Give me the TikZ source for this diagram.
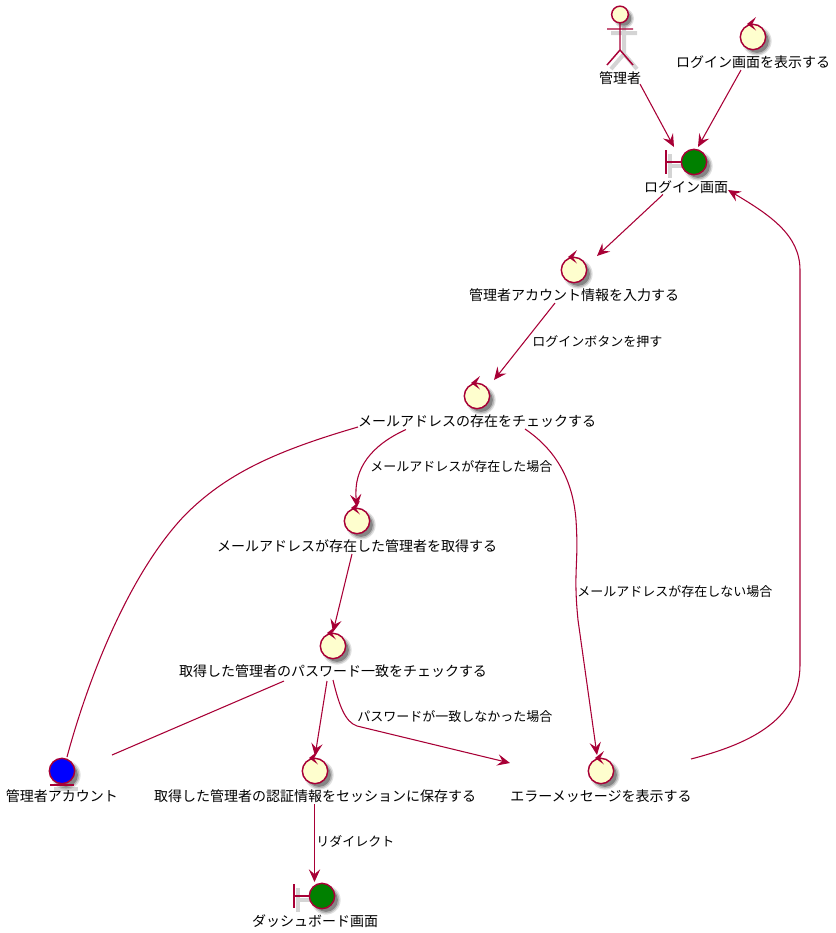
\documentclass[tikz,border=0pt]{standalone}
\usepackage{fontspec}
\setmainfont{Noto Sans CJK JP}
\usetikzlibrary{arrows.meta,calc}
\definecolor{plum}{HTML}{A80036}
\definecolor{cream}{HTML}{FEFECE}
\definecolor{okgreen}{HTML}{008000}
\tikzset{
  conn/.style={draw=plum,line width=0.8pt,-{Stealth[length=9.5pt,width=8.5pt,inset=3.6pt]}},
  plainconn/.style={draw=plum,line width=0.8pt},
  elemtext/.style={font=\fontsize{10.5pt}{12pt}\selectfont,inner sep=0pt,text height=9pt,text depth=1.4pt},
  edgetext/.style={font=\fontsize{9.75pt}{12pt}\selectfont,inner sep=0pt,anchor=west,text height=8.5pt,text depth=1.2pt},
  blob/.style={circle,draw=plum,line width=1.1pt,minimum size=19pt,inner sep=0pt},
  glyph/.style={draw=plum,line width=1.1pt},
  glyphshade/.style={draw=black,line width=3pt,opacity=0.17},
}
\newcommand{\softdisc}[1]{%
  \fill[black,opacity=0.12] (4,4) circle (#1+1.5pt);
  \fill[black,opacity=0.18] (4,4) circle (#1+0.5pt);
  \fill[black,opacity=0.28] (4,4) circle (#1-0.6pt);}
% name, x, y, label dx, label text
\newcommand{\ctrlelem}[5]{%
  \begin{scope}[shift={(#2,#3)}]
    \softdisc{9.5pt}
    \node[blob,fill=cream] (#1) at (0,0) {};
    \fill[plum] (3,-20) -- (-6,-13) -- (3,-6.5) -- (-1,-12.5) -- cycle;
    \node[elemtext] (#1t) at (#4,25) {#5};
  \end{scope}}
\newcommand{\bndelem}[5]{%
  \begin{scope}[shift={(#2,#3)}]
    \draw[glyphshade] (-24,-8) -- (-24,16) (-24,4) -- (0,4);
    \softdisc{9.5pt}
    \draw[glyph] (-28,-12) -- (-28,12) (-28,0) -- (-12,0);
    \node[blob,fill=okgreen] (#1) at (0,0) {};
    \node[elemtext] (#1t) at (#4,25) {#5};
  \end{scope}}
\begin{document}
\begin{tikzpicture}[x=0.75pt,y=-0.75pt]
\useasboundingbox (0,0) rectangle (836,933);
% actor
\begin{scope}[shift={(620,14.5)}]
  \draw[glyphshade] (-9,18.5) -- (17,18.5) (4,12) -- (4,39.5) (-9,54.5) -- (4,39.5) -- (17,54.5);
  \softdisc{6pt}
  \draw[glyph] (-13,14.5) -- (13,14.5) (0,8) -- (0,35.5) (-13,50.5) -- (0,35.5) -- (13,50.5);
  \node[circle,draw=plum,line width=1.1pt,fill=cream,minimum size=12.5pt,inner sep=0pt] (adm) at (0,0) {};
  \node[elemtext] (admt) at (0,63.5) {管理者};
\end{scope}
\ctrlelem{show}{753}{37}{0}{ログイン画面を表示する}
\bndelem{login}{694}{162}{-8}{ログイン画面}
\ctrlelem{input}{574}{270}{0}{管理者アカウント情報を入力する}
\ctrlelem{check}{477}{396}{0}{メールアドレスの存在をチェックする}
\ctrlelem{fetch}{357}{521}{0}{メールアドレスが存在した管理者を取得する}
\ctrlelem{pass}{333}{646}{0}{取得した管理者のパスワード一致をチェックする}
\ctrlelem{save}{315}{771}{0}{取得した管理者の認証情報をセッションに保存する}
\ctrlelem{err}{601}{771}{0}{エラーメッセージを表示する}
\bndelem{dash}{322}{896}{-7}{ダッシュボード画面}
% entity
\begin{scope}[shift={(62,771)}]
  \draw[glyphshade] (-8,18) -- (16,18);
  \softdisc{9.5pt}
  \node[blob,fill=blue] (acct) at (0,0) {};
  \draw[glyph] (-12,14) -- (12,14);
  \node[elemtext] (acctt) at (0,25) {管理者アカウント};
\end{scope}
% connectors
\draw[conn] ($(admt)+(20,6)$) -- ($(login)+(-20,-15)$);
\draw[conn] ($(showt)+(-12,8)$) -- ($(login)+(4,-15)$);
\draw[conn] ($(logint)+(-23,7.5)$) -- ($(input)+(23,-14)$);
\draw[conn] ($(inputt)+(-19,8)$) -- ($(check)+(17,-16)$);
\path (inputt) ++(-42,47) node[edgetext] (lb1) {ログインボタンを押す};
\draw[plainconn] ($(checkt)+(-119,6)$) .. controls (272,452) and (225,475) .. (185,515) .. controls (125,578) and (85,690) .. ($(acct)+(5,-14)$);
\draw[conn] ($(checkt)+(-71,8.5)$) .. controls (372,445) and (353,468) .. ($(fetch)+(0,-14)$);
\node[edgetext] (lb2) at (370,467) {メールアドレスが存在した場合};
\draw[conn] ($(checkt)+(48,8)$) .. controls (556,450) and (573,480) .. (576,520) .. controls (579,565) and (573,570) .. (578,620) -- ($(err)+(-4,-16)$);
\node[edgetext] (lb3) at (577,592) {メールアドレスが存在しない場合};
\draw[conn] ($(fetcht)+(-5,8)$) -- ($(pass)+(0,-14)$);
\draw[plainconn] ($(passt)+(-49,10)$) -- ($(acct)+(50,-16)$);
\draw[conn] ($(passt)+(-6,10)$) -- ($(save)+(0,-15)$);
\draw[conn] ($(passt)+(0,9)$) .. controls (339,705) and (345,722) .. (357,726) -- ($(err)+(-91,-8)$);
\node[edgetext] (lb4) at (357,717) {パスワードが一致しなかった場合};
\draw[conn] ($(savet)+(-0.5,8)$) -- ($(dash)+(-7.5,-14)$);
\node[edgetext] (lb5) at (316,842) {リダイレクト};
\draw[conn] ($(err)+(90,-12)$) .. controls (745,745) and (800,722) .. (800,665) -- (800,270) .. controls (800,235) and (770,215) .. ($(logint)+(42,3)$);
\end{tikzpicture}
\end{document}
